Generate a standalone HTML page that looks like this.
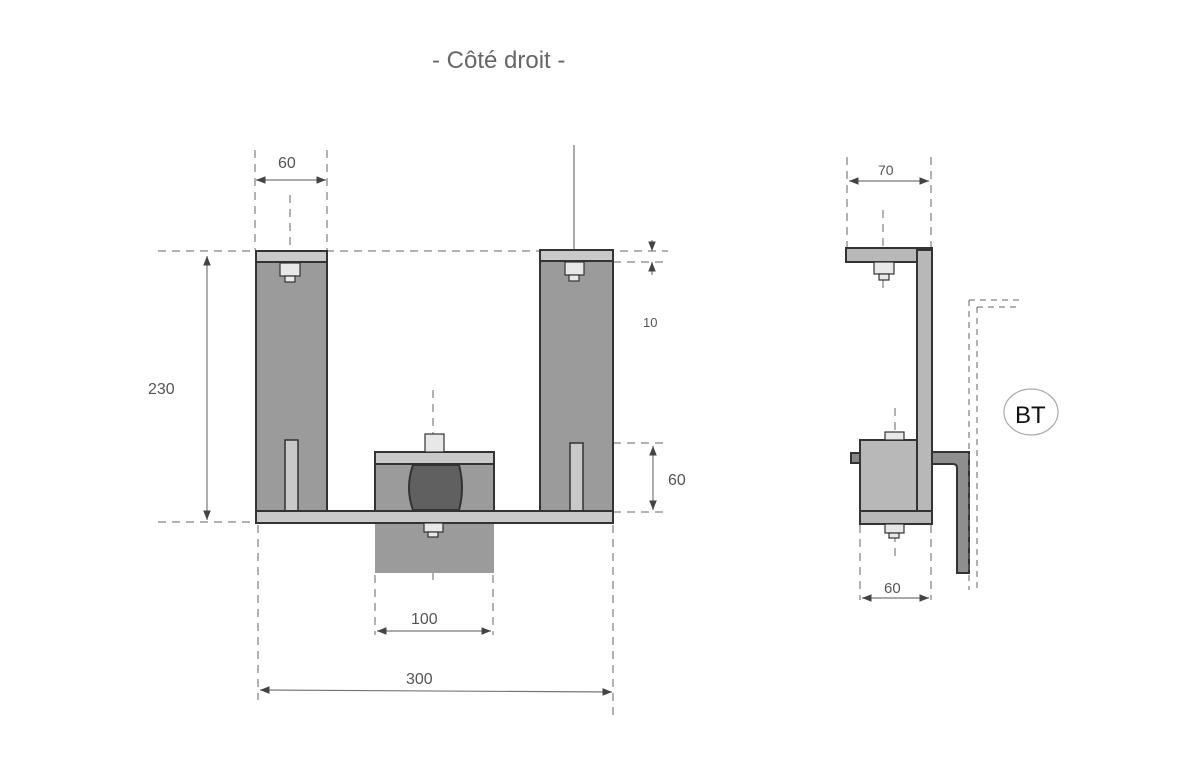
<!DOCTYPE html>
<html><head><meta charset="utf-8"><style>
html,body{margin:0;padding:0;background:#fff;}
svg{display:block;}
text{font-family:"Liberation Sans",sans-serif;fill:#555;}
</style></head><body>
<svg width="1201" height="765" viewBox="0 0 1201 765" xmlns="http://www.w3.org/2000/svg">
<defs>
<marker id="a" viewBox="0 0 10 10" refX="10" refY="5" markerWidth="8" markerHeight="8" orient="auto-start-reverse"><path d="M0,1L10,5L0,9z" fill="#444"/></marker>
</defs>
<rect width="1201" height="765" fill="#fff"/>
<text x="432" y="68" font-size="24" fill="#666" style="fill:#666">- Côté droit -</text>

<g stroke="#666" stroke-width="1" fill="none" stroke-dasharray="8,6">
<line x1="255" y1="150" x2="255" y2="250"/><line x1="327" y1="150" x2="327" y2="250"/>
<line x1="158" y1="251" x2="668" y2="251"/>
<line x1="613" y1="262" x2="668" y2="262"/>
<line x1="158" y1="522" x2="256" y2="522"/>
<line x1="585" y1="443" x2="668" y2="443"/>
<line x1="613" y1="512" x2="668" y2="512"/>
<line x1="258" y1="525" x2="258" y2="700"/><line x1="613" y1="525" x2="613" y2="715"/>
<line x1="375" y1="575" x2="375" y2="635"/><line x1="493" y1="575" x2="493" y2="635"/>
<line x1="847" y1="157" x2="847" y2="248"/><line x1="931" y1="157" x2="931" y2="248"/>
<line x1="860" y1="525" x2="860" y2="600"/><line x1="931" y1="525" x2="931" y2="600"/>
<line x1="290" y1="195" x2="290" y2="295"/>
<line x1="433" y1="390" x2="433" y2="580"/>
<line x1="883" y1="210" x2="883" y2="290"/>
<line x1="895" y1="408" x2="895" y2="560"/>
</g>
<line x1="574" y1="145" x2="574" y2="290" stroke="#555" stroke-width="1"/>

<g stroke="#777" stroke-width="1.2" fill="none">
<line x1="256" y1="180" x2="326" y2="180" marker-start="url(#a)" marker-end="url(#a)"/>
<line x1="207" y1="256" x2="207" y2="520" marker-start="url(#a)" marker-end="url(#a)"/>
<line x1="653" y1="446" x2="653" y2="510" marker-start="url(#a)" marker-end="url(#a)"/>
<line x1="652" y1="240" x2="652" y2="251" marker-end="url(#a)"/>
<line x1="652" y1="275" x2="652" y2="262" marker-end="url(#a)"/>
<line x1="377" y1="631" x2="491" y2="631" marker-start="url(#a)" marker-end="url(#a)"/>
<line x1="260" y1="690" x2="612" y2="692" marker-start="url(#a)" marker-end="url(#a)"/>
<line x1="849" y1="181" x2="929" y2="181" marker-start="url(#a)" marker-end="url(#a)"/>
<line x1="862" y1="598" x2="929" y2="598" marker-start="url(#a)" marker-end="url(#a)"/>
</g>
<g font-size="16">
<text x="278" y="168">60</text>
<text x="148" y="394">230</text>
<text x="643" y="327" font-size="13">10</text>
<text x="668" y="485">60</text>
<text x="411" y="624">100</text>
<text x="406" y="684">300</text>
<text x="878" y="175" font-size="14">70</text>
<text x="884" y="593" font-size="15">60</text>
</g>

<g stroke="#333" stroke-width="2">
<rect x="256" y="251" width="71" height="260" fill="#9b9b9b"/>
<rect x="256" y="251" width="71" height="11" fill="#c9c9c9"/>
<rect x="540" y="250" width="73" height="261" fill="#9b9b9b"/>
<rect x="540" y="250" width="73" height="11" fill="#c9c9c9"/>
<rect x="285" y="440" width="13" height="71" fill="#c9c9c9" stroke-width="1.5"/>
<rect x="570" y="443" width="13" height="68" fill="#c9c9c9" stroke-width="1.5"/>
<rect x="375" y="452" width="119" height="59" fill="#9b9b9b"/>
<rect x="375" y="452" width="119" height="12" fill="#c9c9c9"/>
<path d="M413,465 Q405,488 413,510 L459,510 Q465,488 459,465 Z" fill="#606060"/>
<rect x="375" y="523" width="119" height="50" fill="#9b9b9b" stroke="none"/>
<rect x="256" y="511" width="357" height="12" fill="#c9c9c9"/>
</g>
<g stroke="#333" stroke-width="1.2" fill="#e8e8e8">
<rect x="280" y="263" width="20" height="13"/><rect x="285" y="276" width="10" height="6"/>
<rect x="565" y="262" width="19" height="13"/><rect x="569" y="275" width="10" height="6"/>
<rect x="425" y="434" width="19" height="18"/>
<rect x="424" y="523" width="19" height="9"/><rect x="428" y="532" width="10" height="5"/>
</g>

<g stroke="#333" stroke-width="2">
<rect x="846" y="248" width="86" height="14" fill="#b8b8b8"/>
<rect x="917" y="250" width="15" height="273" fill="#b8b8b8"/>
<rect x="860" y="440" width="57" height="71" fill="#b8b8b8"/>
<rect x="860" y="511" width="72" height="13" fill="#b8b8b8"/>
<rect x="851" y="453" width="9" height="10" fill="#888"/>
<path d="M932,452 L969,452 L969,573 L957,573 L957,468 Q957,464 953,464 L932,464 Z" fill="#8e8e8e"/>
</g>
<g stroke="#333" stroke-width="1.2" fill="#e8e8e8">
<rect x="874" y="262" width="20" height="12"/><rect x="879" y="274" width="10" height="6"/>
<rect x="885" y="432" width="19" height="8"/>
<rect x="885" y="524" width="19" height="9"/><rect x="889" y="533" width="10" height="5"/>
</g>
<g stroke="#666" stroke-width="1" fill="none" stroke-dasharray="6,5">
<path d="M969,300 L1020,300 M969,300 L969,590"/>
<path d="M977,307 L1020,307 M977,307 L977,590"/>
</g>
<ellipse cx="1031" cy="412" rx="27" ry="23" fill="#fff" stroke="#aaa" stroke-width="1.2"/>
<text x="1015" y="423" font-size="24" style="fill:#111">BT</text>
</svg>
</body></html>
